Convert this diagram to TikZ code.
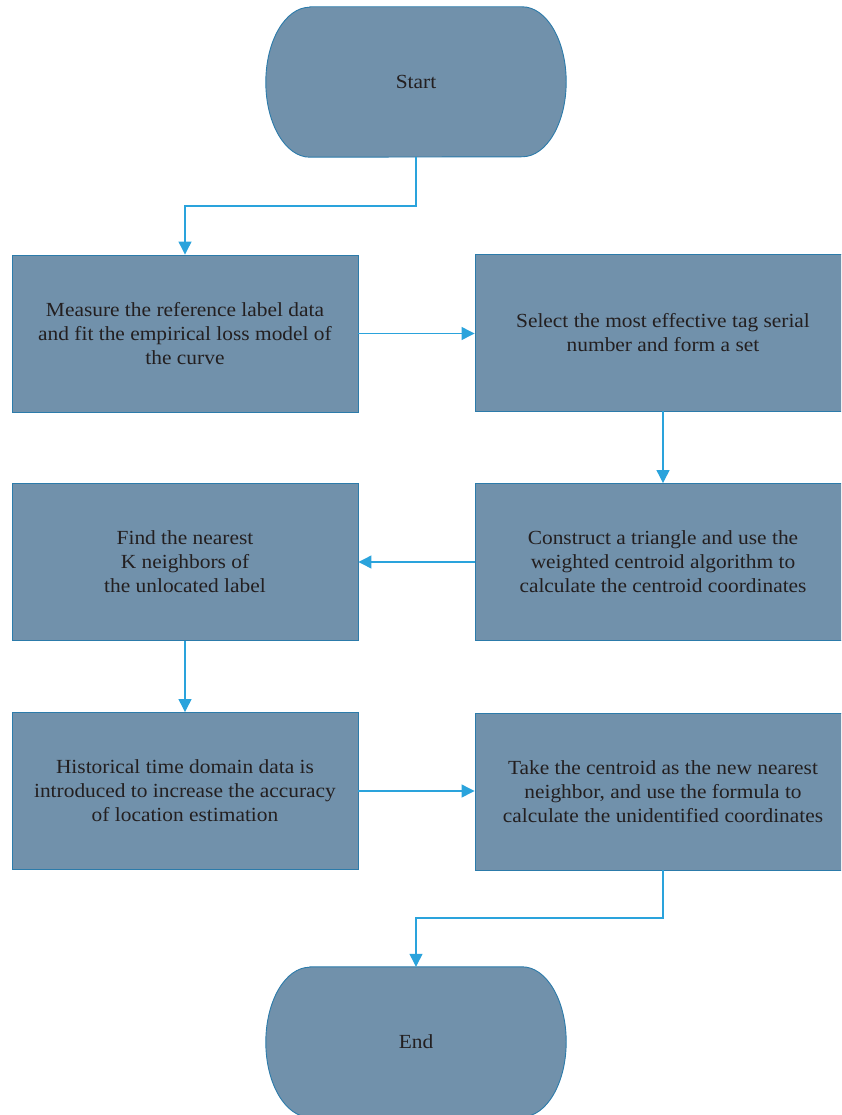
\documentclass[tikz,border=0pt]{standalone}
\usepackage{fontspec}
\setmainfont[FakeStretch=1.07]{Liberation Serif}
\usetikzlibrary{arrows.meta}
\definecolor{boxfill}{HTML}{7191AB}
\definecolor{boxline}{HTML}{2C7BAA}
\definecolor{flowline}{HTML}{2AA3DC}
\definecolor{inktext}{HTML}{231F20}
\tikzset{
  stepbox/.style={rectangle, draw=boxline, fill=boxfill, line width=0.9pt,
    minimum width=346pt, minimum height=157pt, inner sep=0pt,
    align=center, text=inktext, font=\fontsize{20}{24}\selectfont},
  widebox/.style={stepbox, minimum width=376pt},
  terminal/.style={rectangle, minimum width=300pt, minimum height=150pt,
    inner sep=0pt, text=inktext, font=\fontsize{20}{24}\selectfont},
  flow/.style={draw=flowline, line width=1.2pt,
    -{Triangle[length=13pt,width=13pt]}},
}
% outline of a start/end terminal: flat top and bottom, half-elliptic ends
\newcommand{\terminalshape}[1]{%
  \path[draw=boxline, fill=boxfill, line width=0.9pt]
    ([xshift=44pt]#1.north west) -- ([xshift=-44pt]#1.north east)
    arc[start angle=90, end angle=0, x radius=44pt, y radius=75pt]
    arc[start angle=0, end angle=-90, x radius=44pt, y radius=75pt]
    -- ([xshift=44pt]#1.south west)
    arc[start angle=270, end angle=180, x radius=44pt, y radius=75pt]
    arc[start angle=180, end angle=90, x radius=44pt, y radius=75pt]
    -- cycle;}
\begin{document}
\begin{tikzpicture}[x=1pt, y=-1pt]
\useasboundingbox (0,0) rectangle (841,1115);
\clip (0,0) rectangle (841,1115);

% terminals
\node[terminal] (start) at (416,82) {};
\terminalshape{start}
\node[terminal] at (start) {Start};

\node[terminal] (end) at (416,1042) {};
\terminalshape{end}
\node[terminal] at (end) {End};

% process steps
\node[stepbox] (measure) at (185,333.5)
  {Measure the reference label data\\and fit the empirical loss model of\\the curve};
\node[widebox] (select) at (663,332.5)
  {Select the most effective tag serial\\number and form a set};
\node[widebox] (triangle) at (663,562)
  {Construct a triangle and use the\\weighted centroid algorithm to\\calculate the centroid coordinates};
\node[stepbox] (nearest) at (185,562)
  {Find the nearest\\K neighbors of\\the unlocated label};
\node[stepbox] (history) at (185,791)
  {Historical time domain data is\\introduced to increase the accuracy\\of location estimation};
\node[widebox] (centroid) at (663,791.5)
  {Take the centroid as the new nearest\\neighbor, and use the formula to\\calculate the unidentified coordinates};

% connectors
\coordinate (s1) at (416,206);
\coordinate (e1) at (663,918);
\draw[flow] (start.south) -- (s1) -| (measure.north);
\draw[flow] (measure.east) -- (measure.east -| select.west);
\draw[flow] (select.south) -- (triangle.north);
\draw[flow] (triangle.west) -- (triangle.west -| nearest.east);
\draw[flow] (nearest.south) -- (history.north);
\draw[flow] (history.east) -- (history.east -| centroid.west);
\draw[flow] (centroid.south) -- (e1) -| (end.north);
\end{tikzpicture}
\end{document}
